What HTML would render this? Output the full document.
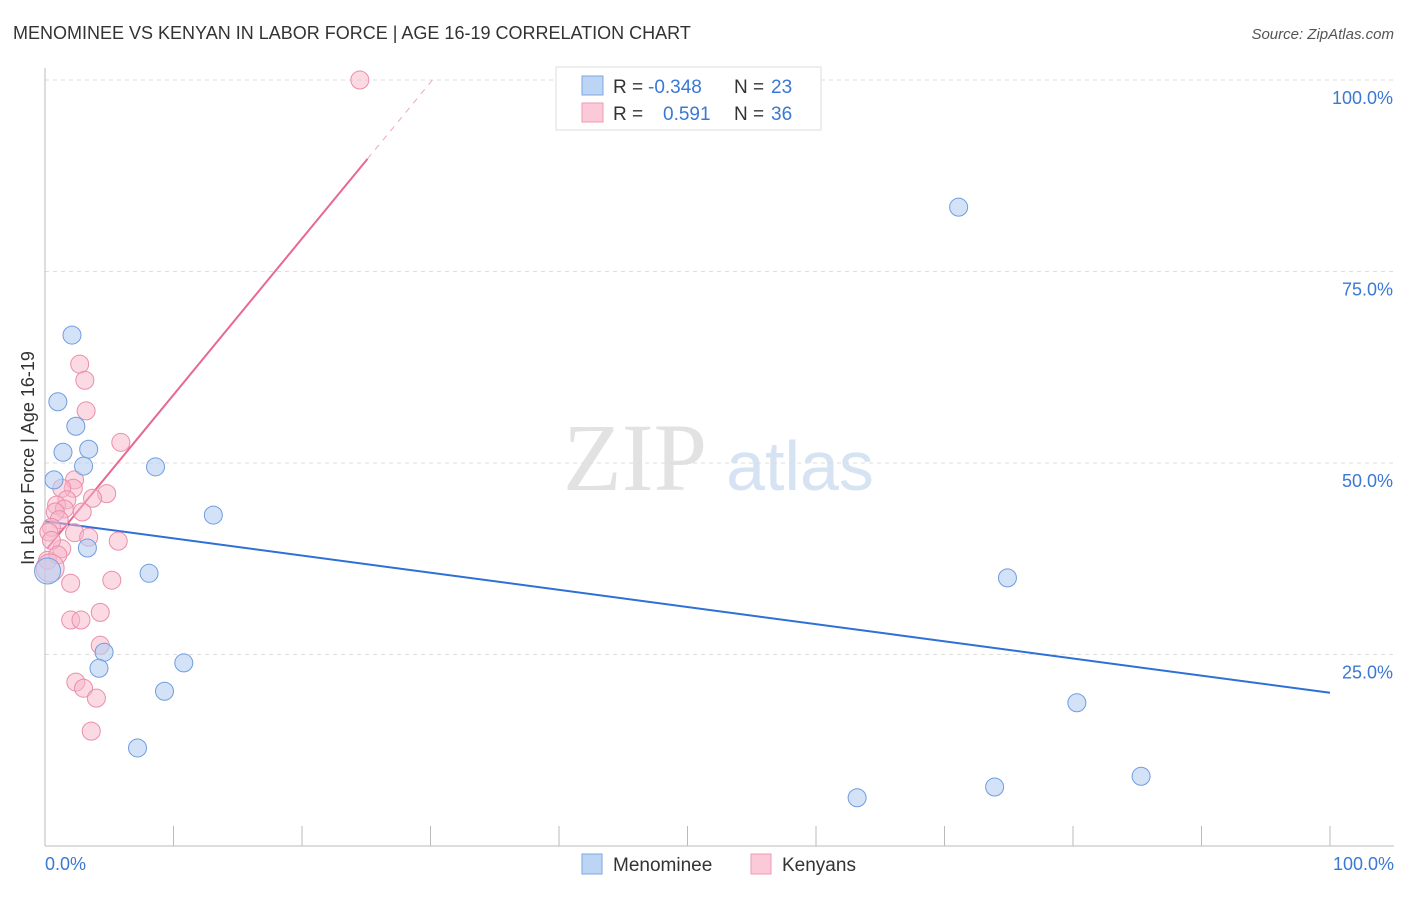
<!DOCTYPE html>
<html><head><meta charset="utf-8"><style>
body{margin:0;background:#fff;}
svg text{font-family:"Liberation Sans",sans-serif;}
</style></head><body>
<svg width="1406" height="892" xmlns="http://www.w3.org/2000/svg">
<text x="13" y="39" font-size="18" fill="#333">MENOMINEE VS KENYAN IN LABOR FORCE | AGE 16-19 CORRELATION CHART</text>
<text x="1394" y="39" font-size="15" fill="#555" font-style="italic" text-anchor="end">Source: ZipAtlas.com</text>
<g>
<text x="635" y="490" font-size="96" fill="#e2e2e2" text-anchor="middle" font-family="Liberation Serif" style="font-family:'Liberation Serif',serif">ZIP</text>
<text x="800" y="490" font-size="70" fill="#d6e3f3" text-anchor="middle">atlas</text>
</g>
<g id="grid"></g>
<g id="axes"></g>
<g id="lines"></g>
<g id="pts"></g>
<text transform="translate(34,458) rotate(-90)" font-size="18" fill="#333" text-anchor="middle">In Labor Force | Age 16-19</text>
<text x="45" y="870" font-size="18" fill="#3a78d4">0.0%</text>
<text x="1394" y="870" font-size="18" fill="#3a78d4" text-anchor="end">100.0%</text>
<g>
<rect x="556" y="67" width="265" height="63" fill="#fff" stroke="#ddd"/>
<rect x="582" y="76" width="21" height="19" fill="#bcd5f5" stroke="#7fa7e0"/>
<rect x="582" y="103" width="21" height="19" fill="#fcc9d8" stroke="#ef9ab4"/>
<text x="613" y="93" font-size="19" fill="#333">R =</text>
<text x="648" y="93" font-size="19" fill="#3a78d4">-0.348</text>
<text x="734" y="93" font-size="19" fill="#333">N =</text>
<text x="771" y="93" font-size="19" fill="#3a78d4">23</text>
<text x="613" y="120" font-size="19" fill="#333">R =</text>
<text x="663" y="120" font-size="19" fill="#3a78d4">0.591</text>
<text x="734" y="120" font-size="19" fill="#333">N =</text>
<text x="771" y="120" font-size="19" fill="#3a78d4">36</text>
</g>
<g>
<rect x="582" y="854" width="20" height="20" fill="#bcd5f5" stroke="#7fa7e0"/>
<text x="613" y="871" font-size="19" fill="#333">Menominee</text>
<rect x="751" y="854" width="20" height="20" fill="#fcc9d8" stroke="#ef9ab4"/>
<text x="782" y="871" font-size="19" fill="#333">Kenyans</text>
</g>
</svg>
<script>
const yTicks=[25,50,75,100];
const yTickLabels=["25.0%","50.0%","75.0%","100.0%"];
const blueX=[2.1,1.0,2.4,1.4,3.4,3.0,0.7,8.6,13.1,3.3,8.1,4.6,4.2,10.8,9.3,7.2,71.1,74.9,80.3,85.3,63.2,73.9,0.2];
const blueY=[66.7,58.0,54.8,51.4,51.8,49.6,47.8,49.5,43.2,38.9,35.6,25.3,23.2,23.9,20.2,12.8,83.4,35.0,18.7,9.1,6.3,7.7,35.9];
const pinkX=[24.5,2.7,3.1,3.2,5.9,2.3,2.2,1.3,4.8,3.7,1.7,0.9,1.5,0.8,1.1,0.5,0.3,2.3,3.4,5.7,1.3,0.5,2.0,5.2,4.3,2.0,2.8,4.3,2.4,3.0,4.0,3.6,0.2,1.0,2.9,0.4];
const pinkY=[100,62.9,60.8,56.8,52.7,47.8,46.7,46.7,46.0,45.4,45.2,44.5,44.0,43.6,42.6,41.6,41.0,40.9,40.3,39.8,38.8,39.9,34.3,34.7,30.5,29.5,29.5,26.2,21.4,20.6,19.3,15.0,37.3,38.0,43.6,36.3];
const blueFit=[42.4,20.0];
const pinkFit=[38.5,2.04];
const NS="http://www.w3.org/2000/svg";
const X=v=>45+v*12.85, Y=v=>846-v*7.66;
function mk(t,a,p){const e=document.createElementNS(NS,t);for(const k in a)e.setAttribute(k,a[k]);p.appendChild(e);return e;}
const grid=document.getElementById('grid'),axes=document.getElementById('axes'),lines=document.getElementById('lines'),pts=document.getElementById('pts');
yTicks.forEach((t,i)=>{
 const l=mk('line',{x1:45,x2:1394,y1:Y(t),y2:Y(t),stroke:'#ddd','stroke-dasharray':'4,4'},grid);
 
 
 const tx=mk('text',{x:1393,y:Y(t)+24,'font-size':18,fill:'#3a78d4','text-anchor':'end'},grid);
 tx.textContent=yTickLabels[i];
 
 
});
const ya=mk('line',{x1:45,x2:45,y1:68,y2:846,stroke:'#bbb'},axes);


const xa=mk('line',{x1:45,x2:1394,y1:846,y2:846,stroke:'#bbb'},axes);


for(let i=0;i<=10;i++){const tk=mk('line',{x1:X(i*10),x2:X(i*10),y1:826,y2:846,stroke:'#bbb'},axes);
 
 }
const bl=mk('line',{x1:X(0),y1:Y(blueFit[0]),x2:X(100),y2:Y(blueFit[1]),stroke:'#2f6fd6','stroke-width':2},lines);


const pEnd=25.1;
const pl=mk('line',{x1:X(0.2),y1:Y(pinkFit[0]+pinkFit[1]*0.2),x2:X(pEnd),y2:Y(pinkFit[0]+pinkFit[1]*pEnd),stroke:'#e86890','stroke-width':2},lines);


const pd=mk('line',{x1:X(pEnd),y1:Y(pinkFit[0]+pinkFit[1]*pEnd),x2:X(30.3),y2:Y(pinkFit[0]+pinkFit[1]*30.3),stroke:'#e86890','stroke-width':1,'stroke-dasharray':'6,6',opacity:0.6},lines);


pinkX.forEach((x,i)=>{const r=(i===pinkX.length-1)?14:9;
 const c=mk('circle',{cx:X(x),cy:Y(pinkY[i]),r:r,fill:'#f7b6ca','fill-opacity':0.5,stroke:'#ea8eab','stroke-width':1},pts);
 
 });
blueX.forEach((x,i)=>{const r=(i===blueX.length-1)?13:9;
 const c=mk('circle',{cx:X(x),cy:Y(blueY[i]),r:r,fill:'#b5cff2','fill-opacity':0.6,stroke:'#6e9de0','stroke-width':1},pts);
 
 });
</script>
</body></html>
